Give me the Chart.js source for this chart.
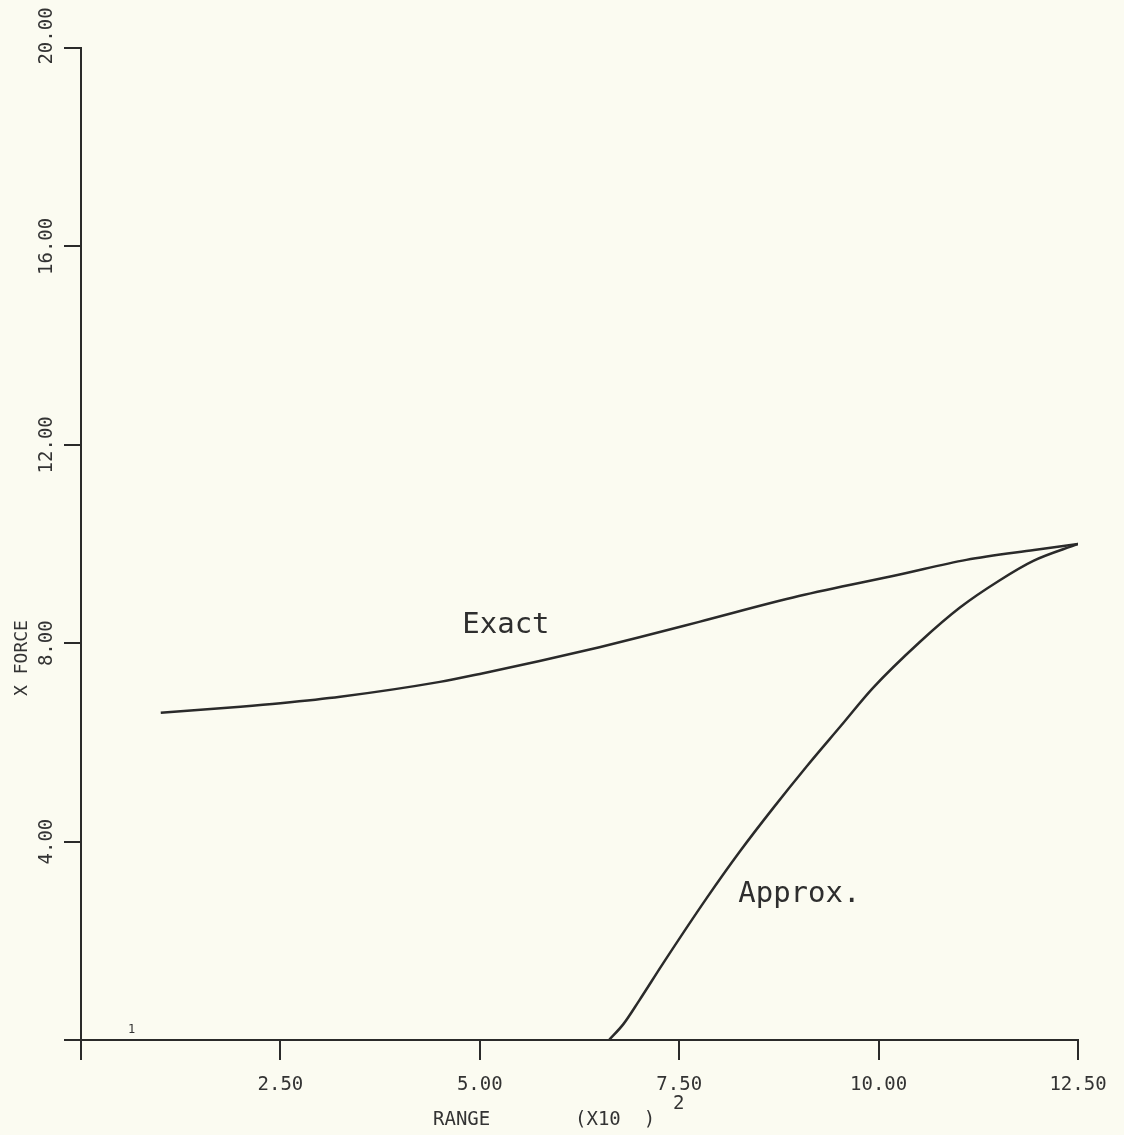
<!DOCTYPE html>
<html>
<head>
<meta charset="utf-8">
<script src="https://cdn.jsdelivr.net/npm/chart.js@4/dist/chart.umd.min.js"></script>
<style>
  html, body { margin: 0; padding: 0; background: #fbfbf1; }
  canvas { display: block; }
</style>
</head>
<body>
<canvas id="chart" width="1124" height="1135"></canvas>
<script>
// axis ticks
const rangeTicks = [0, 2.5, 5, 7.5, 10, 12.5];
const forceTicks = [0, 4, 8, 12, 16, 20];

// Exact curve
const exactRange = [1.0, 2.0, 2.5, 3.25, 4.5, 5.0, 5.75, 6.5, 7.0, 7.75, 9.0, 10.25, 11.1, 11.95, 12.5];
const exactForce = [6.60, 6.72, 6.79, 6.92, 7.22, 7.38, 7.64, 7.92, 8.12, 8.43, 8.95, 9.38, 9.68, 9.88, 10.0];

// Approx. curve
const approxRange = [6.62, 6.8, 7.0, 7.3, 7.84, 8.26, 8.68, 9.1, 9.52, 9.93, 10.52, 11.02, 11.52, 11.94, 12.5];
const approxForce = [0.0, 0.32, 0.80, 1.55, 2.85, 3.80, 4.68, 5.52, 6.32, 7.10, 8.03, 8.72, 9.27, 9.66, 10.0];

// where the curve names sit (data coords)
const exactLabelAt = [4.78, 8.2];
const approxLabelAt = [8.24, 2.78];

const ink = '#2a2a2a';
const mono = '"DejaVu Sans Mono", "Liberation Mono", monospace';

const toPoints = (xs, ys) => xs.map((x, i) => ({ x: x, y: ys[i] }));

const textPlugin = {
  id: 'plotText',
  afterDraw(chart) {
    const ctx = chart.ctx;
    const xs = chart.scales.x;
    const ys = chart.scales.y;
    ctx.save();
    ctx.fillStyle = '#333';

    // y tick labels, rotated
    ctx.font = '19px ' + mono;
    ctx.textAlign = 'center';
    ctx.textBaseline = 'middle';
    forceTicks.forEach(v => {
      if (v === 0) return;
      const py = ys.getPixelForValue(v) + (v === 20 ? -12 : 0);
      ctx.save();
      ctx.translate(47, py);
      ctx.rotate(-Math.PI / 2);
      ctx.fillText(v.toFixed(2), 0, 0);
      ctx.restore();
    });

    // y title
    ctx.save();
    ctx.font = '18px ' + mono;
    ctx.translate(22, 658);
    ctx.rotate(-Math.PI / 2);
    ctx.fillText('X FORCE', 0, 0);
    ctx.restore();

    // x title
    ctx.font = '19px ' + mono;
    ctx.textAlign = 'left';
    ctx.fillText('RANGE', 433, 1120);
    ctx.fillText('(X10  )', 575, 1120);
    ctx.fillText('2', 673, 1104);

    // little plotter mark near origin
    ctx.font = '12px ' + mono;
    ctx.fillText('1', 128, 1030);

    // curve labels
    ctx.font = '29px ' + mono;
    ctx.textBaseline = 'alphabetic';
    ctx.fillStyle = '#2e2e2e';
    ctx.fillText('Exact', xs.getPixelForValue(exactLabelAt[0]), ys.getPixelForValue(exactLabelAt[1]));
    ctx.fillText('Approx.', xs.getPixelForValue(approxLabelAt[0]), ys.getPixelForValue(approxLabelAt[1]));
    ctx.restore();
  }
};

new Chart(document.getElementById('chart'), {
  type: 'line',
  data: {
    datasets: [
      {
        label: 'Exact',
        data: toPoints(exactRange, exactForce),
        borderColor: ink,
        borderWidth: 2.5,
        pointRadius: 0,
        cubicInterpolationMode: 'monotone',
        fill: false,
      },
      {
        label: 'Approx.',
        data: toPoints(approxRange, approxForce),
        borderColor: ink,
        borderWidth: 2.5,
        pointRadius: 0,
        cubicInterpolationMode: 'monotone',
        fill: false,
      },
    ],
  },
  options: {
    responsive: false,
    animation: false,
    layout: { padding: { top: 48, right: 46, left: 0, bottom: 0 } },
    plugins: {
      legend: { display: false },
      tooltip: { enabled: false },
    },
    scales: {
      x: {
        type: 'linear',
        min: 0,
        max: 12.5,
        afterBuildTicks: (scale) => { scale.ticks = rangeTicks.map(v => ({ value: v })); },
        afterFit: (scale) => { scale.height = 95; },
        border: { display: true, color: ink, width: 2 },
        grid: { drawOnChartArea: false, drawTicks: true, tickLength: 20, tickColor: ink, lineWidth: 2 },
        ticks: {
          color: '#333',
          font: { family: mono, size: 19 },
          padding: 14,
          maxRotation: 0,
          callback: (v) => (v === 0 ? '' : Number(v).toFixed(2)),
        },
      },
      y: {
        type: 'linear',
        min: 0,
        max: 20,
        afterBuildTicks: (scale) => { scale.ticks = forceTicks.map(v => ({ value: v })); },
        afterFit: (scale) => { scale.width = 81; },
        border: { display: true, color: ink, width: 2 },
        grid: { drawOnChartArea: false, drawTicks: true, tickLength: 17, tickColor: ink, lineWidth: 2 },
        ticks: { display: false },
      },
    },
  },
  plugins: [textPlugin],
});
</script>
</body>
</html>
